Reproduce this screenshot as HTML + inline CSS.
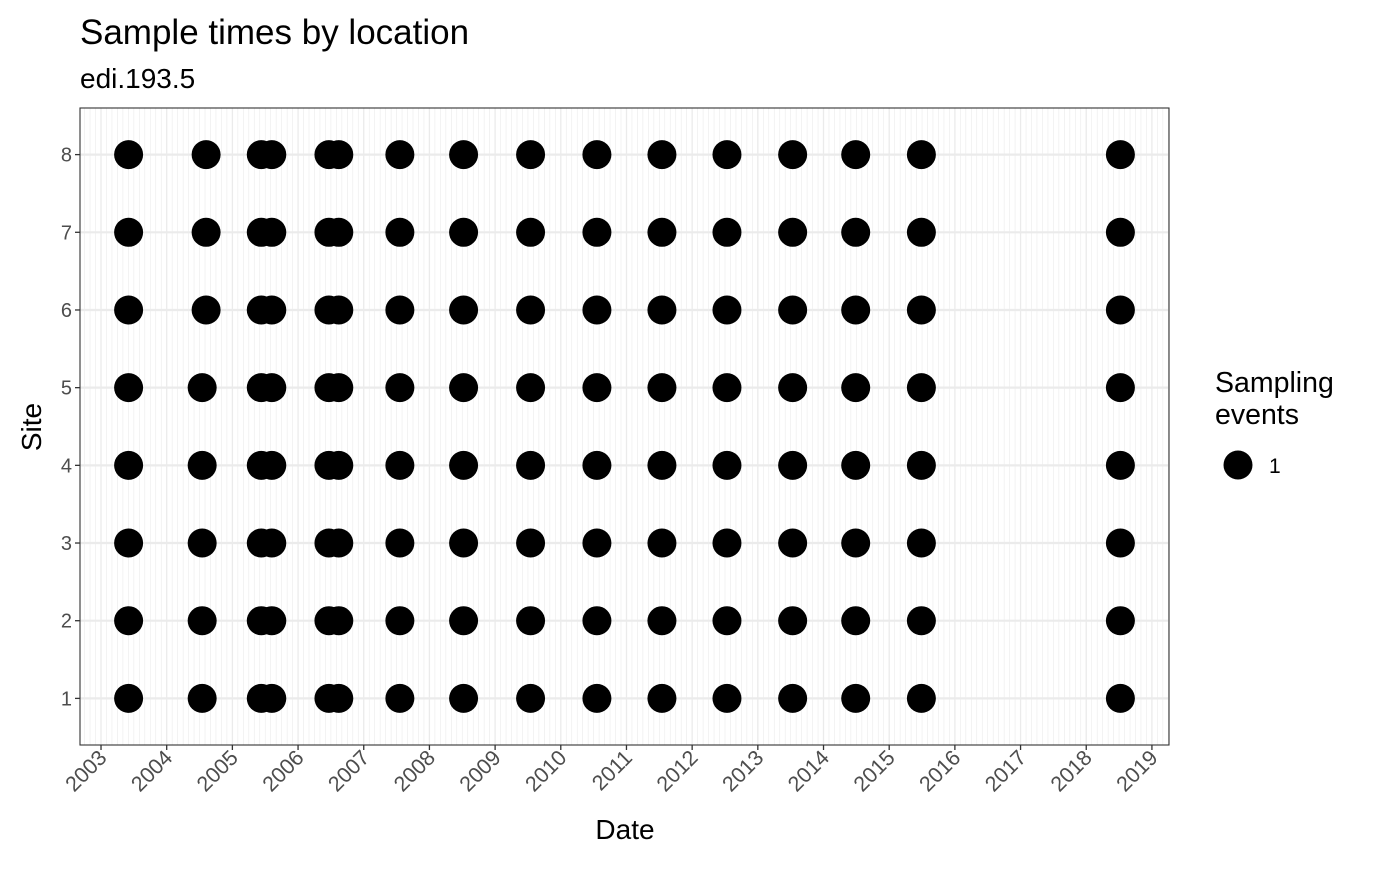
<!DOCTYPE html>
<html><head><meta charset="utf-8"><style>
body{margin:0;background:#fff;font-family:"Liberation Sans",Arial,sans-serif}
</style></head><body>
<svg id="chart" width="1400" height="866" xmlns="http://www.w3.org/2000/svg" font-family="Liberation Sans, Arial, sans-serif">
<text x="80" y="44" font-size="35" fill="#000">Sample times by location</text>
<text x="80" y="88" font-size="28" fill="#000">edi.193.5</text>
<g id="grid"></g>
<g id="points"></g>
<rect x="80" y="108" width="1089" height="637" fill="none" stroke="#333" stroke-width="1.1"/>
<g id="axes"></g>
<text x="625" y="839" font-size="28" text-anchor="middle">Date</text>
<text transform="translate(41,427) rotate(-90)" font-size="28" text-anchor="middle">Site</text>
<g>
<text x="1215" y="392" font-size="28.5">Sampling</text>
<text x="1215" y="424" font-size="28.5">events</text>
<circle cx="1238" cy="465" r="14.5" fill="#000"/>
<text x="1269" y="473" font-size="21" fill="#000">1</text>
</g>
</svg>
<script>
const NS="http://www.w3.org/2000/svg";
const sites=[1,2,3,4,5,6,7,8];
const yearTicks=[2003,2004,2005,2006,2007,2008,2009,2010,2011,2012,2013,2014,2015,2016,2017,2018,2019];
const datesLow=[2003.42,2004.54,2005.44,2005.6,2006.47,2006.62,2007.55,2008.52,2009.54,2010.55,2011.54,2012.53,2013.53,2014.49,2015.49,2018.52];
const datesHigh=[2003.42,2004.6,2005.44,2005.6,2006.47,2006.62,2007.55,2008.52,2009.54,2010.55,2011.54,2012.53,2013.53,2014.49,2015.49,2018.52];
const highSiteMin=6;
const L=80,R=1169,T=108,B=745,x0=2002.68,x1=2019.26,y0=0.4,y1=8.6;
const xs=v=>L+(v-x0)/(x1-x0)*(R-L);
const ys=v=>B-(v-y0)/(y1-y0)*(B-T);
function mk(tag,attrs,parent){const e=document.createElementNS(NS,tag);for(const k in attrs)e.setAttribute(k,attrs[k]);parent.appendChild(e);return e;}
const grid=document.getElementById('grid'),pts=document.getElementById('points'),axes=document.getElementById('axes');
for(let m=Math.ceil(x0*12);m<=x1*12;m++){const v=m/12;
 const l=mk('line',{x1:xs(v),x2:xs(v),y1:T,y2:B,stroke:'#ebebeb','stroke-width':m%12===0?1.3:0.6},grid);
 
 }
sites.forEach(s=>{const l=mk('line',{x1:L,x2:R,y1:ys(s),y2:ys(s),stroke:'#ebebeb','stroke-width':2.2},grid);
 
 
 const t=mk('line',{x1:L-5,x2:L,y1:ys(s),y2:ys(s),stroke:'#333','stroke-width':1.3},axes);
 
 
 const tx=mk('text',{x:L-8,y:ys(s)+7,'font-size':20,fill:'#4d4d4d','text-anchor':'end'},axes);tx.textContent=s;
 
 
 const ds=s>=highSiteMin?datesHigh:datesLow;
 ds.forEach(d=>{const c=mk('circle',{cx:xs(d),cy:ys(s),r:14.5,fill:'#000'},pts);
  
  });
});
yearTicks.forEach(yr=>{const x=xs(yr);
 const t=mk('line',{x1:x,x2:x,y1:B,y2:B+5,stroke:'#333','stroke-width':1.3},axes);
 
 
 const tx=mk('text',{transform:`translate(${x+7},${B+14}) rotate(-45)`,'font-size':21.5,fill:'#4d4d4d','text-anchor':'end'},axes);tx.textContent=yr;
 
 
});
</script>
</body></html>
